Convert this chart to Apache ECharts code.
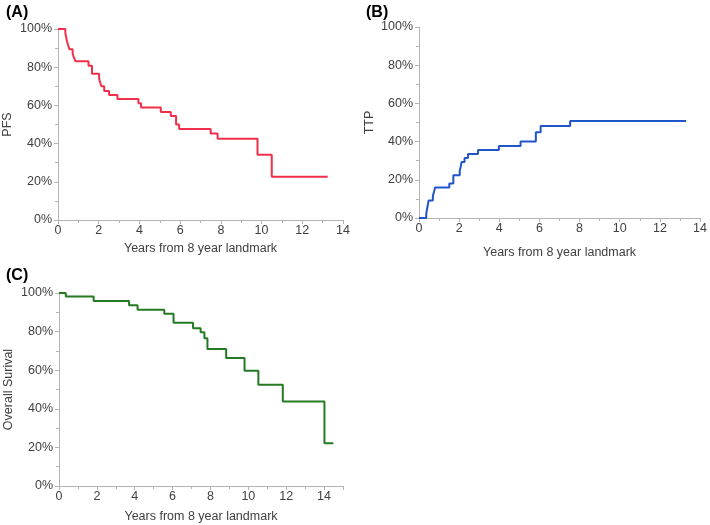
<!DOCTYPE html>
<html>
<head>
<meta charset="utf-8">
<script src="https://cdn.jsdelivr.net/npm/echarts@6/dist/echarts.min.js"></script>
<style>
  html, body { margin: 0; padding: 0; background: #fff; }
  #main { width: 710px; height: 525px; }
</style>
</head>
<body>
<div id="main"></div>
<script>
// (A) PFS - time in years, survival in %
var pfsTime = [0, 0.36, 0.40, 0.44, 0.50, 0.56, 0.72, 0.78, 0.86, 1.50, 1.67, 2.02, 2.07, 2.14, 2.27, 2.51, 2.92, 3.95, 4.08, 5.05, 5.54, 5.80, 5.95, 7.50, 7.84, 9.80, 10.50, 13.25];
var pfsValue = [100, 97.9, 95.7, 93.6, 91.5, 89.4, 87.2, 85.1, 83.1, 80.7, 76.6, 74.1, 72.0, 70.0, 67.6, 65.5, 63.3, 61.1, 58.9, 56.6, 54.5, 50.0, 47.7, 45.3, 42.5, 34.1, 22.6, 22.6];

// (B) TTP - cumulative incidence in %
var ttpTime = [0, 0.36, 0.40, 0.44, 0.48, 0.69, 0.75, 0.80, 1.51, 1.71, 2.03, 2.08, 2.12, 2.27, 2.44, 2.94, 3.98, 5.06, 5.82, 6.06, 7.53, 13.31];
var ttpValue = [0, 2.3, 4.6, 6.9, 9.2, 11.5, 13.8, 16.0, 18.1, 22.4, 24.8, 27.0, 29.3, 31.4, 33.5, 35.6, 37.7, 40.1, 44.9, 48.2, 50.8, 50.8];

// (C) Overall survival in %
var osTime = [0, 0.36, 1.83, 3.70, 4.15, 5.56, 6.05, 7.08, 7.48, 7.68, 7.84, 8.83, 9.80, 10.53, 11.82, 14.02, 14.49];
var osValue = [100, 98.2, 95.8, 93.6, 91.3, 89.2, 84.6, 81.8, 79.6, 76.6, 71.0, 66.3, 59.7, 52.4, 43.8, 22.2, 22.2];

var xTitle = 'Years from 8 year landmark';
var panelLabels = ['(A)', '(B)', '(C)'];
var yTitles = ['PFS', 'TTP', 'Overall Surival'];

function pairs(t, v) {
  return t.map(function (x, i) { return [x, v[i]]; });
}

var labelColor = '#404040';
var axisColor = '#b4b4b4';
var fontFamily = 'Liberation Sans, Arial, sans-serif';

function xAxisCfg(grid, max, gap) {
  return {
    gridIndex: grid,
    type: 'value',
    min: 0,
    max: max,
    interval: 2,
    name: xTitle,
    nameLocation: 'middle',
    nameGap: gap,
    nameTextStyle: { color: labelColor, fontSize: 12.5, fontFamily: fontFamily },
    axisLine: { lineStyle: { color: axisColor, width: 1 } },
    axisTick: { show: true, length: 4, lineStyle: { color: axisColor } },
    minorTick: { show: true, splitNumber: 2, length: 3, lineStyle: { color: axisColor } },
    axisLabel: { color: labelColor, fontSize: 12.5, fontFamily: fontFamily, margin: 4, showMaxLabel: max === 14 },
    splitLine: { show: false }
  };
}

function yAxisCfg(grid, name, gap) {
  return {
    gridIndex: grid,
    type: 'value',
    min: 0,
    max: 100,
    interval: 20,
    name: name,
    nameLocation: 'middle',
    nameGap: gap,
    nameTextStyle: { color: labelColor, fontSize: 12.5, fontFamily: fontFamily },
    axisLine: { show: true, lineStyle: { color: axisColor, width: 1 } },
    axisTick: { show: true, length: 4, lineStyle: { color: axisColor } },
    minorTick: { show: true, splitNumber: 2, length: 3, lineStyle: { color: axisColor } },
    axisLabel: { color: labelColor, fontSize: 12.5, fontFamily: fontFamily, margin: 6, formatter: '{value}%' },
    splitLine: { show: false }
  };
}

function lineSeries(idx, data, color) {
  return {
    type: 'line',
    xAxisIndex: idx,
    yAxisIndex: idx,
    step: 'end',
    data: data,
    symbol: 'none',
    lineStyle: { color: color, width: 2 },
    animation: false
  };
}

var chart = echarts.init(document.getElementById('main'));
chart.setOption({
  animation: false,
  backgroundColor: '#fff',
  title: [
    { text: panelLabels[0], left: 1, top: 0, textStyle: { fontSize: 16, fontWeight: 'bold', color: '#000', fontFamily: fontFamily } },
    { text: panelLabels[1], left: 361, top: 0, textStyle: { fontSize: 16, fontWeight: 'bold', color: '#000', fontFamily: fontFamily } },
    { text: panelLabels[2], left: 1, top: 263, textStyle: { fontSize: 16, fontWeight: 'bold', color: '#000', fontFamily: fontFamily } }
  ],
  grid: [
    { left: 58, top: 29, width: 285, height: 191 },
    { left: 419, top: 27, width: 284, height: 191 },
    { left: 59, top: 293, width: 284, height: 193 }
  ],
  xAxis: [
    xAxisCfg(0, 14, 22),
    xAxisCfg(1, 14, 28),
    xAxisCfg(2, 15, 24)
  ],
  yAxis: [
    yAxisCfg(0, yTitles[0], 44),
    yAxisCfg(1, yTitles[1], 43),
    yAxisCfg(2, yTitles[2], 44)
  ],
  series: [
    lineSeries(0, pairs(pfsTime, pfsValue), '#f0304a'),
    lineSeries(1, pairs(ttpTime, ttpValue), '#1f55c8'),
    lineSeries(2, pairs(osTime, osValue), '#237a23')
  ]
});
</script>
</body>
</html>
